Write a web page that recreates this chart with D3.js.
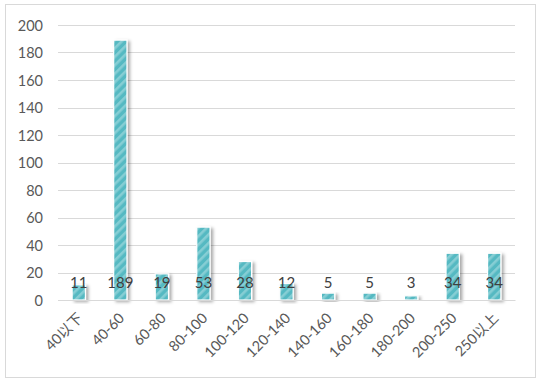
<!DOCTYPE html>
<html><head><meta charset="utf-8">
<script src="https://cdn.jsdelivr.net/npm/d3@7"></script>
<style>html,body{margin:0;padding:0;background:#fff;}svg{display:block;}</style>
</head><body>
<svg id="c" width="537" height="384"></svg>
<script>
const categories = ["40以下","40-60","60-80","80-100","100-120","120-140","140-160","160-180","180-200","200-250","250以上"];
const values = [11,189,19,53,28,12,5,5,3,34,34];
const yTicks = [0,20,40,60,80,100,120,140,160,180,200];

const svg = d3.select("#c");
const font = "Lato, 'Noto Sans CJK SC', sans-serif";
const m = {left:58, right:515, top:25, bottom:300};

const defs = svg.append("defs");
const pat = defs.append("pattern").attr("id","stripe").attr("patternUnits","userSpaceOnUse")
  .attr("width",6).attr("height",6).attr("patternTransform","rotate(45)");
pat.append("rect").attr("width",6).attr("height",6).attr("fill","#55b9c2");
pat.append("rect").attr("x",0).attr("width",2.6).attr("height",6).attr("fill","#86ced4");
const f = defs.append("filter").attr("id","sh").attr("x","-50%").attr("y","-10%").attr("width","200%").attr("height","130%");
f.append("feDropShadow").attr("dx",2.5).attr("dy",1.5).attr("stdDeviation",1.8).attr("flood-color","#000").attr("flood-opacity",0.33);

svg.append("rect").attr("x",5.5).attr("y",4.5).attr("width",530).attr("height",373)
  .attr("fill","#fff").attr("stroke","#d9d9d9");

const x = d3.scaleBand().domain(categories).range([m.left,m.right]).paddingInner(0.68).paddingOuter(0.34);
const y = d3.scaleLinear().domain([0,200]).range([m.bottom,m.top]);

const grid = svg.append("g");
grid.selectAll("line").data(yTicks).join("line")
  .attr("x1",m.left).attr("x2",m.right)
  .attr("y1",d=>Math.round(y(d))+0.5).attr("y2",d=>Math.round(y(d))+0.5)
  .attr("stroke","#d9d9d9").attr("stroke-width",1);

const yAxis = d3.axisLeft(y).tickValues(yTicks).tickSize(0).tickPadding(0);
const ga = svg.append("g").attr("transform",`translate(43,0)`).call(yAxis);
ga.select(".domain").remove();
ga.selectAll("text").attr("font-family",font).attr("font-size","14.5px").attr("fill","#595959").attr("dy","0.36em");

svg.append("g").selectAll("rect").data(values).join("rect")
  .attr("x",(d,i)=>x(categories[i])).attr("width",x.bandwidth())
  .attr("y",d=>y(d)).attr("height",d=>y(0)-y(d))
  .attr("fill","url(#stripe)").attr("stroke","#fff").attr("stroke-width",1.2)
  .attr("filter","url(#sh)");

svg.append("g").selectAll("text").data(values).join("text")
  .attr("x",(d,i)=>x(categories[i])+x.bandwidth()/2).attr("y",288)
  .attr("text-anchor","middle").attr("font-family",font).attr("font-size","15px").attr("fill","#404040")
  .text(d=>d);

const xAxis = d3.axisBottom(x).tickSize(0).tickPadding(0);
const gx = svg.append("g").attr("transform",`translate(0,${m.bottom})`).call(xAxis);
gx.select(".domain").attr("stroke","#d9d9d9");
gx.selectAll("text").attr("font-family",font).attr("font-size","14.5px").attr("fill","#595959")
  .attr("text-anchor","end").attr("dy",null).attr("y",0)
  .attr("transform","translate(5,19) rotate(-45)");
</script>
</body></html>
